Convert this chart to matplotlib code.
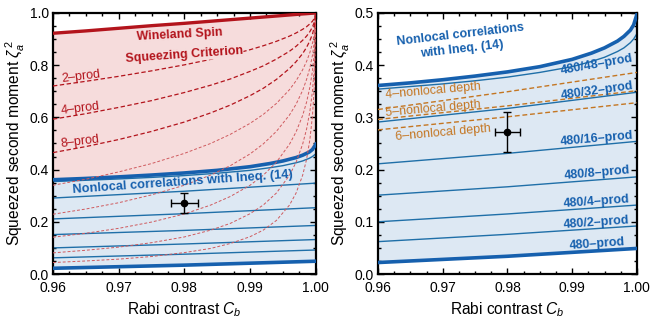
import matplotlib
matplotlib.use("Agg")
import matplotlib.pyplot as plt
from matplotlib.ticker import MultipleLocator

plt.rcParams['font.family'] = ['Liberation Sans', 'DejaVu Sans']
plt.rcParams['mathtext.fontset'] = 'custom'
plt.rcParams['mathtext.rm'] = 'Liberation Sans'
plt.rcParams['mathtext.it'] = 'Liberation Sans:italic'
plt.rcParams['mathtext.bf'] = 'Liberation Sans:bold'

# Rabi contrast grid (x) for the k-producible bounds
c_grid = [0.96, 0.965, 0.97, 0.975, 0.98, 0.984, 0.987, 0.99, 0.992, 0.994,
          0.996, 0.997, 0.998, 0.9986, 0.9991, 0.9995, 0.9998, 1.0]
# k-prod dashed curves (left panel)
prod_2 = [0.720, 0.738, 0.757, 0.778, 0.801, 0.822, 0.839, 0.859, 0.874, 0.891, 0.911, 0.923, 0.937, 0.947, 0.958, 0.968, 0.980, 1.000]
prod_4 = [0.593, 0.614, 0.638, 0.664, 0.695, 0.723, 0.747, 0.776, 0.797, 0.823, 0.853, 0.872, 0.895, 0.911, 0.928, 0.946, 0.966, 1.000]
prod_8 = [0.465, 0.488, 0.515, 0.546, 0.582, 0.617, 0.647, 0.683, 0.711, 0.745, 0.787, 0.813, 0.844, 0.868, 0.893, 0.919, 0.948, 1.000]
prod_16 = [0.340, 0.363, 0.391, 0.423, 0.462, 0.500, 0.535, 0.577, 0.611, 0.653, 0.706, 0.740, 0.782, 0.814, 0.848, 0.884, 0.925, 1.000]
prod_32 = [0.229, 0.249, 0.273, 0.303, 0.340, 0.379, 0.415, 0.460, 0.498, 0.546, 0.609, 0.650, 0.703, 0.745, 0.789, 0.838, 0.895, 1.000]
prod_64 = [0.141, 0.156, 0.175, 0.199, 0.230, 0.264, 0.297, 0.340, 0.378, 0.428, 0.497, 0.544, 0.607, 0.658, 0.715, 0.778, 0.853, 1.000]
prod_128 = [0.081, 0.091, 0.103, 0.120, 0.142, 0.168, 0.194, 0.231, 0.264, 0.310, 0.378, 0.428, 0.497, 0.555, 0.622, 0.701, 0.798, 1.000]
prod_256 = [0.044, 0.050, 0.057, 0.067, 0.082, 0.098, 0.117, 0.143, 0.168, 0.205, 0.264, 0.310, 0.378, 0.439, 0.514, 0.606, 0.727, 1.000]
wineland = [0.922, 0.931, 0.941, 0.951, 0.960, 0.968, 0.974, 0.980, 0.984, 0.988, 0.992, 0.994, 0.996, 0.997, 0.998, 0.999, 1.000, 1.000]

# Nonlocal correlations bound (thick blue) and 480/48-prod
c_nl = [0.96, 0.965, 0.97, 0.975, 0.98, 0.985, 0.99, 0.993, 0.995, 0.997, 0.998, 0.999, 0.9995, 1.0]
nonlocal_bound = [0.361, 0.366, 0.372, 0.379, 0.387, 0.397, 0.411, 0.423, 0.433, 0.446, 0.455, 0.467, 0.477, 0.497]
prod_480_48 = [0.354, 0.359, 0.364, 0.370, 0.377, 0.386, 0.397, 0.407, 0.415, 0.426, 0.433, 0.443, 0.450, 0.460]

# 480/n-prod bounds (nearly straight)
c_lin = [0.96, 0.98, 1.0]
prod_480_32 = [0.291, 0.317, 0.348]
prod_480_16 = [0.211, 0.231, 0.254]
prod_480_8 = [0.151, 0.167, 0.186]
prod_480_4 = [0.100, 0.115, 0.132]
prod_480_2 = [0.062, 0.076, 0.092]
prod_480 = [0.022, 0.034, 0.049]

# nonlocal depth (orange dashed, right panel)
depth_4 = [0.315, 0.349, 0.386]
depth_5 = [0.296, 0.322, 0.351]
depth_6 = [0.276, 0.301, 0.328]

# measured point
pt_c, pt_cerr = 0.98, 0.002
pt_z, pt_zerr = 0.272, 0.038

RED = '#b3141c'
RED_L = '#cf5a5e'
PINK = '#f6dcdc'
LBLUE = '#dde8f3'
BLUE = '#1660ae'
BLUE_T = '#1f6fa8'
ORANGE = '#c47622'


def style_axes(ax, ymaj, ymin):
    ax.set_xlim(0.96, 1.0)
    ax.xaxis.set_major_locator(MultipleLocator(0.01))
    ax.xaxis.set_minor_locator(MultipleLocator(0.0025))
    ax.yaxis.set_major_locator(MultipleLocator(ymaj))
    ax.yaxis.set_minor_locator(MultipleLocator(ymin))
    ax.xaxis.set_major_formatter(plt.FuncFormatter(lambda v, p: "%.2f" % v))
    ax.yaxis.set_major_formatter(plt.FuncFormatter(lambda v, p: "%.1f" % v))
    ax.tick_params(which='both', direction='in', top=True, right=True, labelsize=10, width=1, pad=3)
    ax.tick_params(axis='x', which='major', pad=5)
    ax.tick_params(which='major', length=4)
    ax.tick_params(which='minor', length=2)
    for s in ax.spines.values():
        s.set_linewidth(1.6)
    ax.set_xlabel(r"Rabi contrast $C_b$", fontsize=11.2, labelpad=4)
    ax.set_ylabel(r"Squeezed second moment $\zeta_a^{\,2}$", fontsize=11.2, labelpad=2)


def draw_blue(ax):
    ax.fill_between(c_lin, prod_480, [0.35, 0.35, 0.35], color=LBLUE, lw=0, zorder=0)
    ax.fill_between(c_nl, 0.34, nonlocal_bound, color=LBLUE, lw=0, zorder=0)
    for ys in [prod_480_32, prod_480_16, prod_480_8, prod_480_4, prod_480_2]:
        ax.plot(c_lin, ys, color=BLUE_T, lw=1.0, zorder=2)
    ax.plot(c_nl, prod_480_48, color=BLUE_T, lw=1.0, zorder=2)
    ax.plot(c_nl, nonlocal_bound, color=BLUE, lw=2.6, zorder=3)
    ax.plot(c_lin, prod_480, color=BLUE, lw=2.6, zorder=3)


def draw_point(ax):
    ax.errorbar(pt_c, pt_z, xerr=pt_cerr, yerr=pt_zerr, fmt='o', color='black',
                ms=4.5, lw=1.0, capsize=3, capthick=1.0, zorder=6)


fig = plt.figure(figsize=(6.52, 3.22), dpi=100)

# ---- left panel
ax = fig.add_axes([0.0813, 0.149, 0.403, 0.811])
style_axes(ax, 0.2, 0.05)
ax.set_ylim(0, 1)
ax.fill_between(c_nl, nonlocal_bound, 1.0, color=PINK, lw=0, zorder=0)
ax.fill_between(c_grid, wineland, 1.0, color='white', lw=0, zorder=0)
draw_blue(ax)
for ys in [prod_16, prod_32, prod_64, prod_128, prod_256]:
    ax.plot(c_grid, ys, color=RED_L, lw=0.7, dashes=(3, 2), zorder=4)
for ys in [prod_2, prod_4, prod_8]:
    ax.plot(c_grid, ys, color=RED, lw=0.9, dashes=(3.5, 2), zorder=4)
ax.plot(c_grid, wineland, color=RED, lw=2.4, zorder=5)
ax.text(0.9793, 0.917, "Wineland Spin", color=RED, fontsize=9, fontweight='bold',
        ha='center', va='center', rotation=3)
ax.text(0.9800, 0.838, "Squeezing Criterion", color=RED, fontsize=9, fontweight='bold',
        ha='center', va='center', rotation=4, zorder=5,
        bbox=dict(facecolor=PINK, edgecolor='none', pad=0.2))
for lab, yy in [("2\u2013prod", 0.754), ("4\u2013prod", 0.635), ("8\u2013prod", 0.506)]:
    ax.text(0.9642, yy, lab, color=RED, fontsize=9, ha='center', va='center', rotation=7)
ax.text(0.9798, 0.350, "Nonlocal correlations with Ineq. (14)", color=BLUE, fontsize=9.3,
        fontweight='bold', ha='center', va='center', rotation=4, zorder=5)
draw_point(ax)

# ---- right panel
ax2 = fig.add_axes([0.5798, 0.149, 0.397, 0.811])
style_axes(ax2, 0.1, 0.025)
ax2.set_ylim(0, 0.5)
draw_blue(ax2)
for ys in [depth_4, depth_5, depth_6]:
    ax2.plot(c_lin, ys, color=ORANGE, lw=1.0, dashes=(3.5, 2), zorder=4)
for lab, cc, yy in [("4\u2013nonlocal depth", 0.9685, 0.351), ("5\u2013nonlocal depth", 0.9685, 0.317),
                    ("6\u2013nonlocal depth", 0.9700, 0.271)]:
    ax2.text(cc, yy, lab, color=ORANGE, fontsize=9, ha='center', va='center', rotation=5)
ax2.text(0.9728, 0.445, "Nonlocal correlations\nwith Ineq. (14)", color=BLUE, fontsize=9,
         fontweight='bold', ha='center', va='center', rotation=6.5, linespacing=1.3)
for lab, yy, rot in [("480/48\u2013prod", 0.400, 10), ("480/32\u2013prod", 0.350, 8),
                     ("480/16\u2013prod", 0.258, 5), ("480/8\u2013prod", 0.194, 5),
                     ("480/4\u2013prod", 0.139, 4), ("480/2\u2013prod", 0.099, 4),
                     ("480\u2013prod", 0.058, 4)]:
    ax2.text(0.9938, yy, lab, color=BLUE, fontsize=9, fontweight='bold',
             ha='center', va='center', rotation=rot, zorder=5)
draw_point(ax2)

fig.savefig("out.png")
